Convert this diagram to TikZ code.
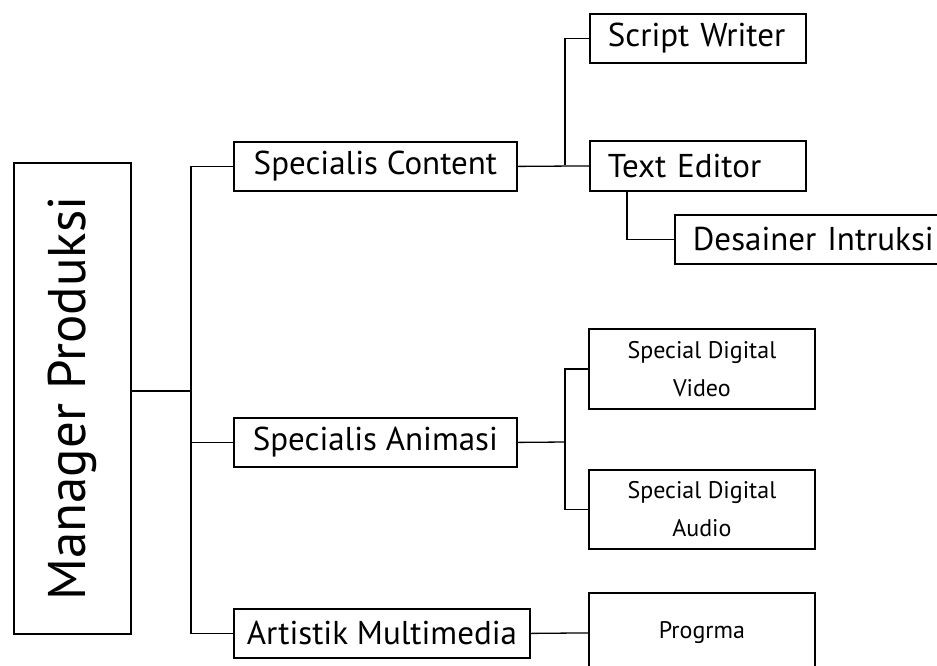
\documentclass[tikz,border=0pt]{standalone}
\usepackage{fontspec}
\setmainfont{PT Sans}
\begin{document}
\begin{tikzpicture}[x=1pt,y=-1pt,
  box/.style={draw,line width=1.8pt,rectangle,inner sep=0pt,anchor=north west},
  big/.style={font=\fontsize{33}{36}\selectfont},
  small/.style={font=\fontsize{24}{38}\selectfont,align=center},
  wire/.style={line width=1.3pt}]
\useasboundingbox (0,0) rectangle (937,665);
\clip (0,0) rectangle (937,665);

% top level
\node[box,minimum width=117pt,minimum height=471pt] (mgr) at (13,162)
  {\rotatebox{90}{\fontsize{53}{56}\selectfont Manager Produksi}};

% second level
\node[box,big,minimum width=283pt,minimum height=49pt] (content) at (233,141) {Specialis Content};
\node[box,big,minimum width=283pt,minimum height=49pt] (animasi) at (233,417) {Specialis Animasi};
\node[box,big,minimum width=296pt,minimum height=49pt] (artistik) at (233,608) {Artistik Multimedia};

% content branch
\node[box,big,minimum width=216pt,minimum height=49pt,text width=180pt,align=left] (script) at (589,13) {Script Writer};
\node[box,big,minimum width=216pt,minimum height=50pt,text width=180pt,align=left] (texted) at (589,140) {Text Editor};
\node[box,big,minimum width=300pt,minimum height=49pt,text width=264pt,align=left] (desainer) at (674,214) {Desainer Intruksi};

% animation branch
\node[box,small,minimum width=226pt,minimum height=80pt] (video) at (588,328) {Special Digital\\Video};
\node[box,small,minimum width=226pt,minimum height=79pt] (audio) at (588,469) {Special Digital\\Audio};

% multimedia branch
\node[box,small,minimum width=226pt,minimum height=80pt] (progrma) at (588,592) {Progrma};

% junction points
\coordinate (trunk) at (191,391);
\coordinate (jc) at (565,165);
\coordinate (ja) at (565,442);
\coordinate (jt) at (627,238);

% connectors
\draw[wire] (mgr.east |- trunk) -- (trunk);
\draw[wire] (content.west) -- (content.west -| trunk) -- (artistik.west -| trunk) -- (artistik.west);
\draw[wire] (animasi.west) -- (animasi.west -| trunk);
\draw[wire] (content.east) -- (texted.west);
\draw[wire] (script.west) -| (jc);
\draw[wire] (texted.south -| jt) |- (desainer.west);
\draw[wire] (animasi.east) -- (ja);
\draw[wire] (video.west) -| (ja) |- (audio.west);
\draw[wire] (artistik.east) -- (progrma.west);
\end{tikzpicture}
\end{document}
